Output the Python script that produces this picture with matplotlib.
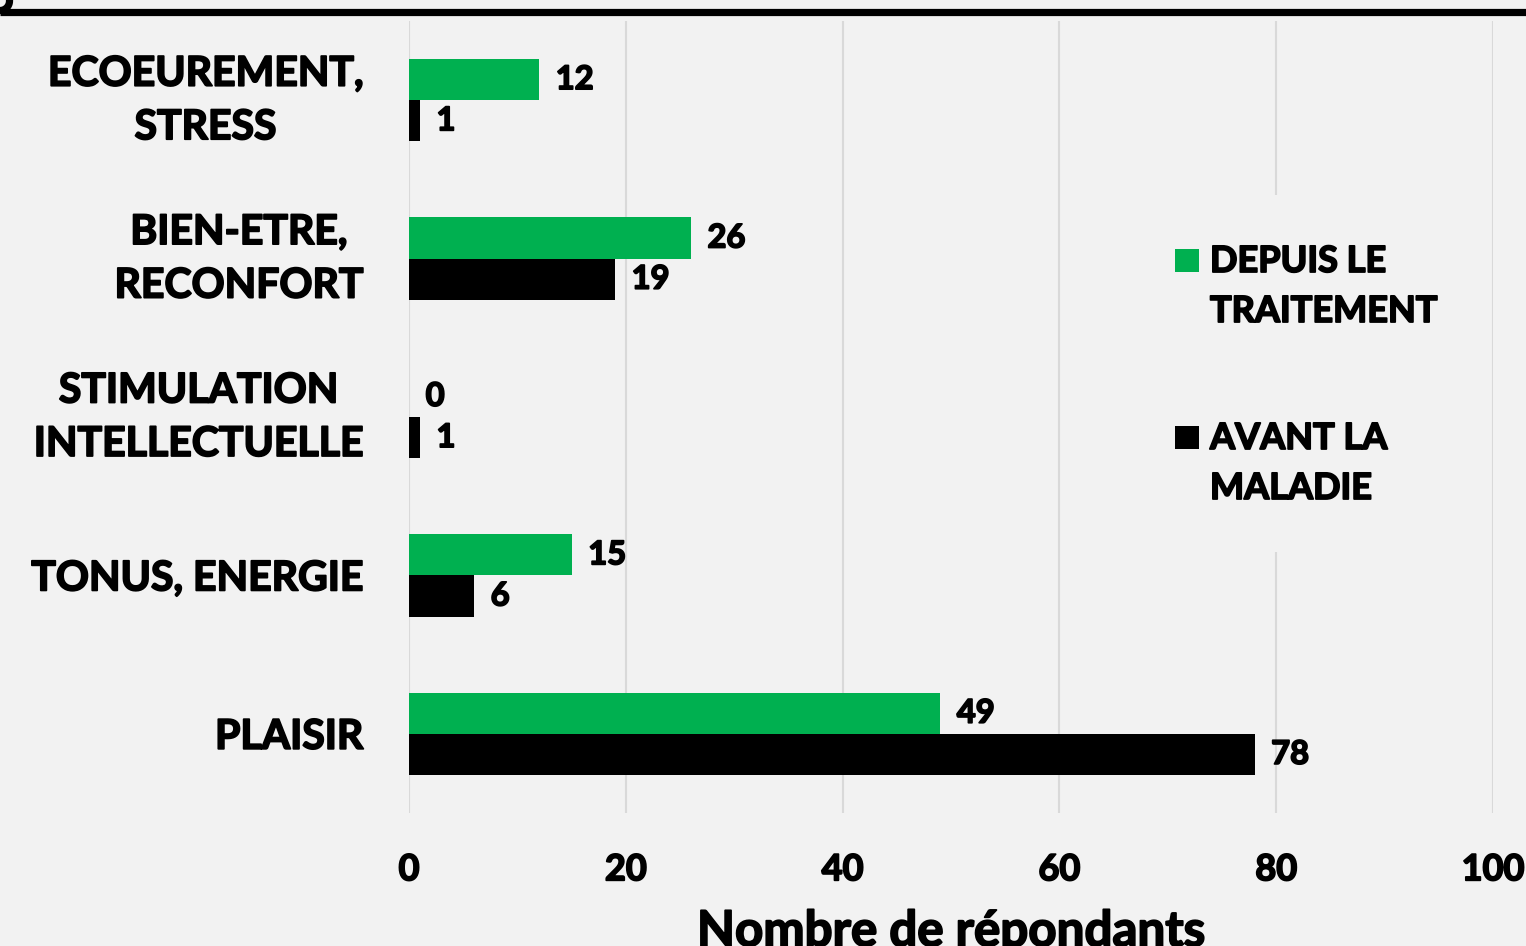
import matplotlib
matplotlib.use("Agg")
import matplotlib.pyplot as plt
from matplotlib.patches import Rectangle
from matplotlib.lines import Line2D
import matplotlib.patheffects as pe
import matplotlib.transforms as mtransforms
import numpy as np

categories = ["ECOEUREMENT,\nSTRESS", "BIEN-ETRE,\nRECONFORT", "STIMULATION\nINTELLECTUELLE",
              "TONUS, ENERGIE", "PLAISIR"]
depuis = [12, 26, 0, 15, 49]
avant = [1, 19, 1, 6, 78]
series_labels = ["DEPUIS LE\nTRAITEMENT", "AVANT LA\nMALADIE"]
xticks = [0, 20, 40, 60, 80, 100]
xlabel = "Nombre de répondants"

GREEN = "#00b050"
BLACK = "#000000"
BG = "#f2f2f2"
FONT = "Lato"
BOLD = [pe.withStroke(linewidth=1.3, foreground="black")]

W, H = 1526, 946
fig = plt.figure(figsize=(W / 100, H / 100), dpi=100, facecolor=BG)

def fx(x):
    return x / W

def fy(y):
    return 1 - y / H

ax = fig.add_axes([fx(409), fy(813), fx(1493) - fx(409), fy(21) - fy(813)])
ax.set_facecolor(BG)

n = len(categories)
pos = np.arange(n)[::-1]
bh = 0.26
b1 = ax.barh(pos + bh / 2, depuis, height=bh, color=GREEN, zorder=3)
b2 = ax.barh(pos - bh / 2, avant, height=bh, color=BLACK, zorder=3)
for bars in (b1, b2):
    txts = ax.bar_label(bars, padding=12, fontsize=23.5, fontweight="bold", family=FONT)
    for t in txts:
        t.set_path_effects(BOLD)

ax.set_xlim(0, 100)
ax.set_ylim(-0.5, n - 0.5)
ax.set_xticks(xticks)
ax.set_xticklabels([str(t) for t in xticks], fontsize=26, fontweight="bold", family=FONT)
ax.set_yticks(pos)
ax.set_yticklabels(categories, fontsize=29.5, fontweight="bold", family=FONT,
                   multialignment="center", linespacing=1.55)
ax.tick_params(axis="x", length=0, pad=29)
ax.tick_params(axis="y", length=0, pad=33)
for t in ax.get_xticklabels() + ax.get_yticklabels():
    t.set_path_effects(BOLD)
shift = mtransforms.ScaledTranslation(0, 0.11, fig.dpi_scale_trans)
for t in ax.get_yticklabels():
    if "\n" in t.get_text():
        t.set_transform(t.get_transform() + shift)
for s in ax.spines.values():
    s.set_visible(False)
ax.grid(axis="x", color="#d9d9d9", linewidth=1.5, zorder=0)
ax.set_axisbelow(True)

ax.set_xlabel(xlabel, fontsize=35.5, fontweight="bold", family=FONT)
ax.xaxis.set_label_coords(0.5, -(946 - 813) / 792)
ax.xaxis.label.set_va("baseline")
ax.xaxis.label.set_path_effects(BOLD)

# legend (manual)
fig.add_artist(Rectangle((fx(1160), fy(552)), fx(1447) - fx(1160), fy(195) - fy(552),
                         transform=fig.transFigure, facecolor=BG, edgecolor="none", zorder=5))
leg_items = [(GREEN, series_labels[0], 249, 272), (BLACK, series_labels[1], 426, 449)]
for col, lab, ytop, base in leg_items:
    fig.add_artist(Rectangle((fx(1175), fy(ytop + 23)), fx(24), 23 / H,
                             transform=fig.transFigure, facecolor=col, edgecolor="none", zorder=6))
    for k, line in enumerate(lab.split("\n")):
        fig.text(fx(1210), fy(base + 50 * k), line, fontsize=26, fontweight="bold",
                 family=FONT, va="baseline", ha="left", zorder=7, path_effects=BOLD)

# top frame border
fig.add_artist(Line2D([0, 1], [fy(12.5), fy(12.5)], transform=fig.transFigure,
                      color="black", linewidth=5.2, solid_capstyle="butt"))
t = np.linspace(0, np.pi / 2, 30)
r = 9.5
fig.add_artist(Line2D(fx(r * np.cos(t)), fy(r * np.sin(t) + 1), transform=fig.transFigure,
                      color="black", linewidth=5.2))

fig.savefig("out.png", dpi=100, facecolor=BG)
